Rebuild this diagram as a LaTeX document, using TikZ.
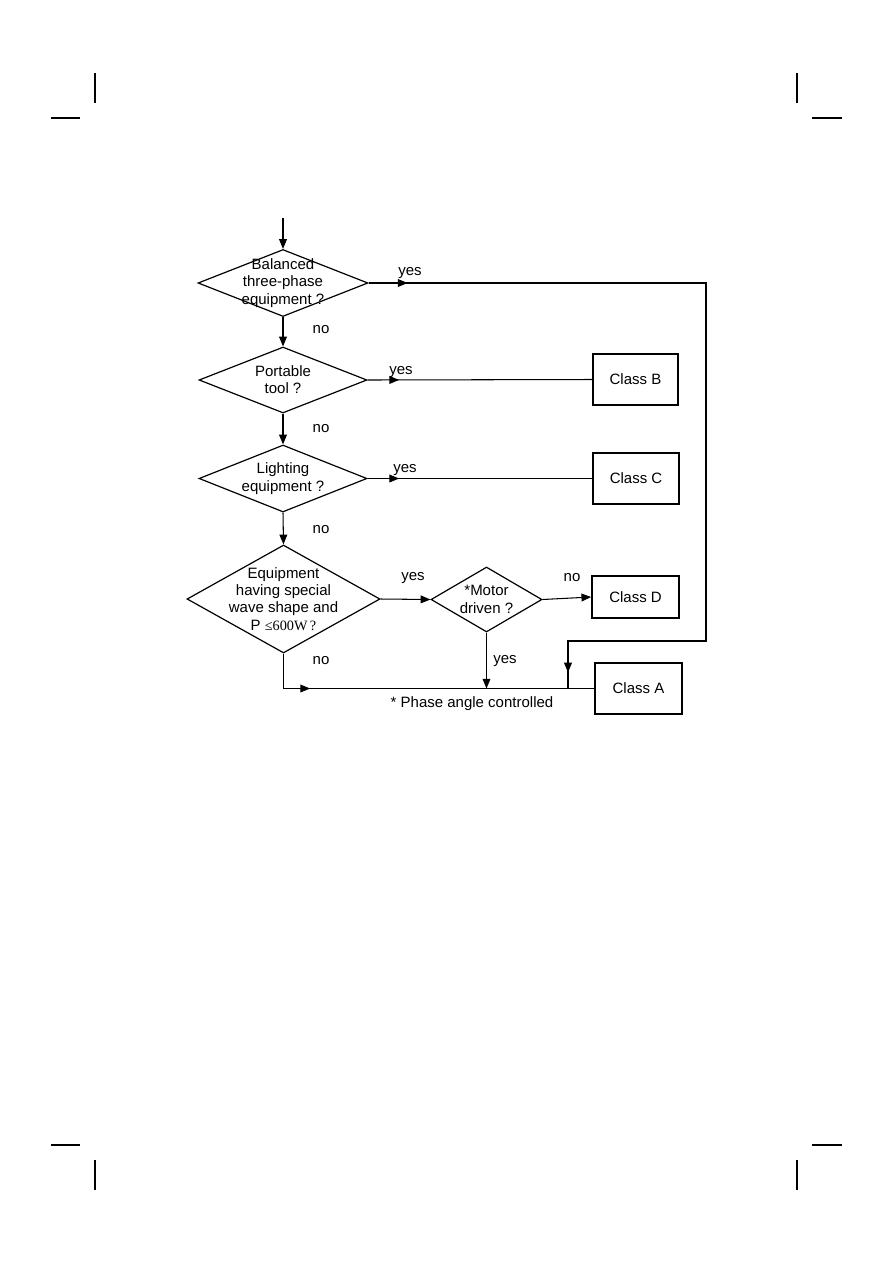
\documentclass[tikz,border=0pt]{standalone}
\usepackage{fontspec}
\setmainfont{Liberation Sans}
\newfontfamily\timesfont{Liberation Serif}
\usetikzlibrary{arrows.meta,shapes.geometric,decorations.markings}
\newcommand{\pxu}{0.6667pt}

\begin{document}
\begin{tikzpicture}[
  x=\pxu, y=-\pxu,
  every node/.style={font=\fontsize{10}{11.5}\selectfont},
  decision/.style={diamond, draw, line width=0.8pt, inner sep=0pt},
  classbox/.style={rectangle, draw, line width=0.8pt, inner sep=0pt,
    minimum width=86*\pxu, minimum height=51*\pxu},
  txt/.style={align=center, inner sep=0pt},
  lbl/.style={inner sep=1pt},
  flow/.style={line width=0.7pt},
  tipped/.style={flow, -{Triangle[length=6.5pt, width=5.2pt]}},
  markat/.style={flow, postaction={decorate}, decoration={markings,
    mark=at position #1 with {\arrow{Triangle[length=6.5pt, width=5.2pt]}}}},
  crop/.style={line width=0.7pt}
]
\useasboundingbox (0,0) rectangle (893,1263);

%% ==== crop marks ====================================================
\foreach \ha/\hb/\vx in {51/80/95, 812/842/797} {
  \draw[crop] (\ha,118) -- (\hb,118);
  \draw[crop] (\ha,1145) -- (\hb,1145);
  \draw[crop] (\vx,73) -- (\vx,103);
  \draw[crop] (\vx,1160) -- (\vx,1190);
}

%% ==== decisions =====================================================
\node[decision, minimum width=170*\pxu, minimum height=67*\pxu] (bal) at (283,283) {};
\node[txt] (baltxt) at (bal) {Balanced\\three-phase\\equipment ?};

\node[decision, minimum width=168*\pxu, minimum height=66*\pxu] (port) at (283,380) {};
\node[txt] (porttxt) at (port) {Portable\\tool ?};

\node[decision, minimum width=168*\pxu, minimum height=67*\pxu] (light) at (283,478.5) {};
\node[txt] (lighttxt) at (light) {Lighting\\equipment ?};

\node[decision, minimum width=193*\pxu, minimum height=108*\pxu] (equip) at (283.5,599) {};
\node[txt] (equiptxt) at (equip)
  {Equipment\\having special\\wave shape and\\P {\timesfont\fontsize{9.5}{11.5}\selectfont ≤600W\,?}};

\node[decision, minimum width=111*\pxu, minimum height=65*\pxu] (motor) at (486.5,599.5) {};
\node[txt] (motortxt) at (motor) {*Motor\\driven ?};

%% ==== classes =======================================================
\node[classbox, minimum width=85*\pxu] (classB) at (635.5,379.5) {Class B};
\node[classbox] (classC) at (636,478.5) {Class C};
\node[classbox, minimum width=87*\pxu, minimum height=42*\pxu, line width=1.1pt] (classD) at (635.5,597) {Class D};
\node[classbox, minimum width=87*\pxu] (classA) at (638.5,688.5) {Class A};

\coordinate (start) at (283,218);
\coordinate (join) at (568,688.5);

%% ==== connectors ====================================================
\draw[tipped] (start) -- (bal.north);
\draw[tipped] (bal.south) -- (port.north);
\draw[tipped] (port.south) -- (light.north);
\draw[tipped] (light.south) -- (equip.north);

\draw[line width=1.2pt] (bal.east) -- ++(36,0);
\draw[flow, postaction={decorate}, decoration={markings,
    mark=at position 26pt with {\arrow{Triangle[length=6.5pt, width=5.2pt]}},
    mark=at position -10.7pt with {\arrow{Triangle[length=6.5pt, width=5.2pt]}}}]
  (bal.east) -| (706,641) -| (join);

\draw[markat=21pt] (port.east) -- (classB.west);
\draw[markat=21pt] (light.east) -- (classC.west);
\draw[tipped] (equip.east) -- (motor.west);
\draw[tipped] (motor.east) -- (classD.west);
\draw[tipped] (motor.south) -- (motor.south |- classA.west);
\draw[markat=41pt] (equip.south) |- (classA.west);

%% ==== labels ========================================================
\node[lbl] (yes1) at (410,273) {yes};
\node[lbl] (no1) at (321,330) {no};
\node[lbl] (yes2) at (401,372) {yes};
\node[lbl] (no2) at (321,429) {no};
\node[lbl] (yes3) at (405,470) {yes};
\node[lbl] (no3) at (321,530) {no};
\node[lbl] (yes4) at (413,578) {yes};
\node[lbl] (no4) at (572,578) {no};
\node[lbl] (yes5) at (505,661) {yes};
\node[lbl] (no5) at (321,661) {no};
\node[lbl] (note) at (472,704) {* Phase angle controlled};

\end{tikzpicture}
\end{document}
